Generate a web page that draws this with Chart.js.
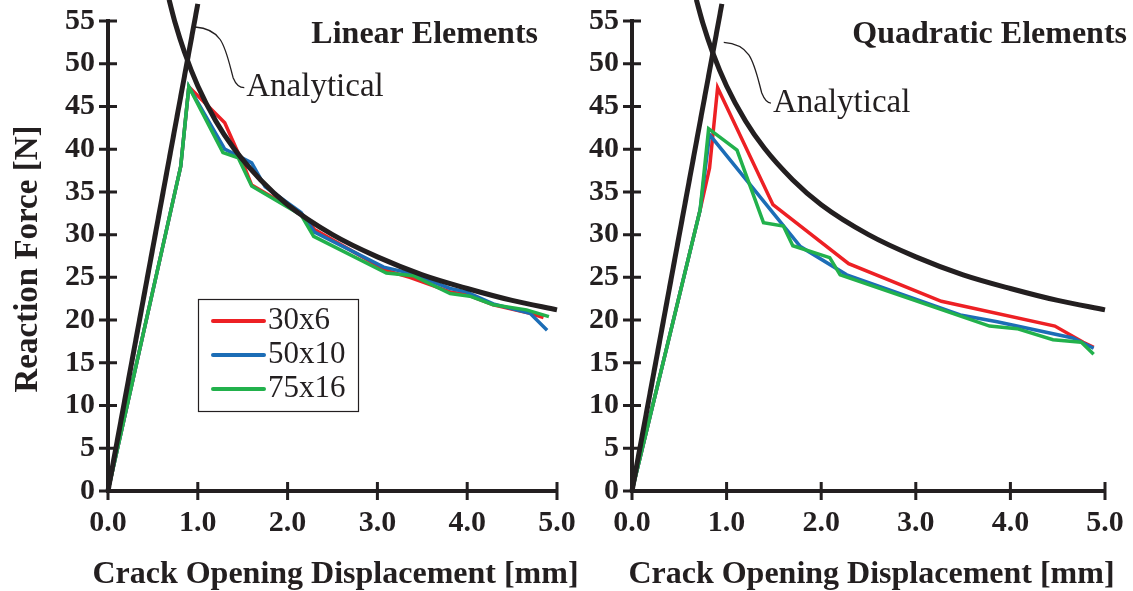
<!DOCTYPE html>
<html>
<head>
<meta charset="utf-8">
<script src="https://cdn.jsdelivr.net/npm/chart.js@4.4.1/dist/chart.umd.min.js"></script>
<style>
  html, body { margin: 0; padding: 0; background: #fff; }
  #wrap { position: relative; width: 1133px; height: 591px; }
  #left { position: absolute; left: 0; top: 0; width: 580px; height: 591px; }
  #right { position: absolute; left: 580px; top: 0; width: 553px; height: 591px; }
</style>
</head>
<body>
<div id="wrap">
  <canvas id="left" width="580" height="591"></canvas>
  <canvas id="right" width="553" height="591"></canvas>
</div>
<script>
// --- data ---
const xTickLabels = ['0.0', '1.0', '2.0', '3.0', '4.0', '5.0'];
const yTickLabels = ['0', '5', '10', '15', '20', '25', '30', '35', '40', '45', '50', '55'];
const meshNames = ['30x6', '50x10', '75x16'];
const xTitle = 'Crack Opening Displacement [mm]';
const yTitle = 'Reaction Force [N]';

// analytical solution (same in both panels)
const riseLeftX = [0, 1.0];
const riseLeftY = [0, 57];
const riseRightX = [0, 0.95];
const riseRightY = [0, 57];
const decayX = [0.68, 0.75, 0.85, 1.0, 1.2, 1.4, 1.7, 2.0, 2.5, 3.0, 3.5, 4.0, 4.5, 5.0];
const decayY = [57.5, 54.7, 51.4, 47.4, 43.3, 40.1, 36.4, 33.5, 30.0, 27.4, 25.3, 23.7, 22.3, 21.2];

// linear elements
const linRedX   = [0, 0.81, 0.9, 1.3, 1.52, 1.6, 2.15, 2.3, 3.1, 3.36, 3.81, 3.99, 4.29, 4.7, 4.85];
const linRedY   = [0, 38, 47.3, 43.1, 37.9, 35.8, 32.4, 30.6, 25.8, 25.0, 23.3, 23.0, 21.8, 20.8, 20.3];
const linBlueX  = [0, 0.81, 0.9, 1.3, 1.6, 1.75, 2.15, 2.3, 3.07, 3.36, 3.81, 3.99, 4.29, 4.7, 4.89];
const linBlueY  = [0, 38, 47.3, 40.0, 38.4, 35.6, 32.6, 30.3, 26.2, 25.5, 23.7, 23.3, 21.9, 20.8, 18.8];
const linGreenX = [0, 0.81, 0.9, 1.28, 1.45, 1.6, 2.15, 2.29, 3.1, 3.4, 3.81, 4.03, 4.29, 4.66, 4.91];
const linGreenY = [0, 38, 47.3, 39.6, 39.0, 35.7, 32.3, 29.8, 25.5, 25.2, 23.1, 22.8, 21.8, 21.2, 20.4];

// quadratic elements
const quadRedX   = [0, 0.72, 0.82, 0.905, 1.49, 2.29, 3.27, 4.47, 4.77, 4.88];
const quadRedY   = [0, 32.9, 37.8, 47.2, 33.5, 26.6, 22.2, 19.3, 17.4, 16.8];
const quadBlueX  = [0, 0.72, 0.82, 1.78, 2.27, 3.47, 3.86, 4.66, 4.88];
const quadBlueY  = [0, 32.9, 41.7, 28.6, 25.3, 20.6, 19.8, 17.9, 16.7];
const quadGreenX = [0, 0.72, 0.81, 1.11, 1.39, 1.6, 1.7, 2.09, 2.2, 3.78, 4.07, 4.45, 4.75, 4.88];
const quadGreenY = [0, 32.9, 42.4, 39.9, 31.4, 31.0, 28.7, 27.3, 25.3, 19.3, 19.0, 17.7, 17.4, 16.0];

const ink = '#231f20';
const meshColors = ['#ed2024', '#1c6db6', '#22b14c'];
const serif = "'Liberation Serif', 'DejaVu Serif', serif";

const pts = (xs, ys) => xs.map((x, i) => ({ x: x, y: ys[i] }));

function centredText(ctx, text, cx, cy, angle, font) {
    ctx.save();
    ctx.translate(cx, cy);
    ctx.rotate(angle);
    ctx.font = font;
    ctx.textAlign = 'center';
    ctx.textBaseline = 'middle';
    ctx.fillText(text, 0, 0);
    ctx.restore();
}

// ticks that cross the axis line, plus titles / callouts / legend box
const panelDecor = {
    id: 'panelDecor',
    afterDatasetsDraw(chart, args, opts) {
        const { ctx, chartArea, scales: { x, y } } = chart;
        ctx.save();

        // crossing tick marks
        ctx.strokeStyle = ink;
        ctx.lineWidth = 3;
        ctx.beginPath();
        y.ticks.forEach(t => {
            const py = y.getPixelForValue(t.value);
            ctx.moveTo(chartArea.left - 9, py);
            ctx.lineTo(chartArea.left + 9, py);
        });
        x.ticks.forEach(t => {
            const px = x.getPixelForValue(t.value);
            ctx.moveTo(px, chartArea.bottom - 9);
            ctx.lineTo(px, chartArea.bottom + 9);
        });
        ctx.stroke();

        // axis titles
        ctx.fillStyle = ink;
        const midX = (chartArea.left + chartArea.right) / 2 + 3;
        centredText(ctx, xTitle, midX, chartArea.bottom + 84, 0, 'bold 32px ' + serif);
        if (opts.yTitle) {
            const midY = (chartArea.top + chartArea.bottom) / 2 + 3;
            centredText(ctx, yTitle, chartArea.left - 80, midY, -Math.PI / 2, 'bold 33px ' + serif);
        }

        // panel title
        ctx.font = 'bold 32px ' + serif;
        ctx.textAlign = 'right';
        ctx.textBaseline = 'middle';
        ctx.fillText(opts.title, chartArea.right + opts.titleDx, chartArea.top + 14);

        // "Analytical" callout
        const a = opts.callout;
        const sx = x.getPixelForValue(a.fromX), sy = y.getPixelForValue(a.fromY);
        const tx = x.getPixelForValue(a.textX), ty = y.getPixelForValue(a.textY);
        ctx.lineWidth = 1.3;
        ctx.beginPath();
        ctx.moveTo(sx, sy);
        ctx.bezierCurveTo(sx + 28, sy + 2, sx + 30, ty - 40, sx + 38, ty - 10);
        ctx.quadraticCurveTo(sx + 42, ty, tx - 2, ty);
        ctx.stroke();
        ctx.font = '33px ' + serif;
        ctx.textAlign = 'left';
        ctx.fillText('Analytical', tx, ty);

        // legend box
        if (opts.legend) {
            const lx = chartArea.left + 90, ly = chartArea.top + 278;
            ctx.lineWidth = 1.2;
            ctx.strokeRect(lx + 0.5, ly + 0.5, 160, 112);
            ctx.font = '31px ' + serif;
            meshNames.forEach((name, i) => {
                const ry = ly + 22 + i * 34;
                ctx.strokeStyle = meshColors[i];
                ctx.lineWidth = 4;
                ctx.lineCap = 'round';
                ctx.beginPath();
                ctx.moveTo(lx + 15, ry);
                ctx.lineTo(lx + 66, ry);
                ctx.stroke();
                ctx.fillStyle = ink;
                ctx.fillText(name, lx + 70, ry);
            });
        }
        ctx.restore();
    }
};

function makePanel(canvasId, cfg) {
    const fe = [cfg.red, cfg.blue, cfg.green].map((d, i) => ({
        label: meshNames[i],
        data: d,
        borderColor: meshColors[i],
        borderWidth: 3.5,
        order: 3 - i,
        clip: false
    }));
    const analytic = [cfg.rise, cfg.decay].map(d => ({
        label: 'Analytical',
        data: d,
        borderColor: ink,
        borderWidth: 5,
        cubicInterpolationMode: 'monotone',
        order: 0,
        clip: false
    }));

    return new Chart(document.getElementById(canvasId), {
        type: 'line',
        data: { datasets: fe.concat(analytic) },
        options: {
            responsive: false,
            animation: false,
            layout: { padding: { top: 21, right: cfg.padRight, left: 0, bottom: 0 } },
            elements: { point: { radius: 0 }, line: { borderJoinStyle: 'miter', borderCapStyle: 'butt' } },
            plugins: {
                legend: { display: false },
                tooltip: { enabled: false },
                panelDecor: {
                    title: cfg.title, titleDx: cfg.titleDx, callout: cfg.callout,
                    legend: cfg.legend, yTitle: cfg.yTitle
                }
            },
            scales: {
                x: {
                    type: 'linear',
                    min: 0, max: 5,
                    grid: { display: false, drawTicks: false },
                    border: { display: true, color: ink, width: 4 },
                    ticks: {
                        stepSize: 1,
                        padding: 14,
                        color: ink,
                        font: { family: serif, size: 30, weight: 'bold' },
                        callback: (v, i) => xTickLabels[i]
                    },
                    afterFit: s => { s.height = 100; s.paddingLeft = 0; s.paddingRight = 0; }
                },
                y: {
                    min: 0, max: 55,
                    grid: { display: false, drawTicks: false },
                    border: { display: true, color: ink, width: 4 },
                    ticks: {
                        stepSize: 5,
                        padding: 13,
                        color: ink,
                        font: { family: serif, size: 30, weight: 'bold' },
                        callback: (v, i) => yTickLabels[i]
                    },
                    afterFit: s => { s.width = cfg.yWidth; s.paddingTop = 0; s.paddingBottom = 0; }
                }
            }
        },
        plugins: [panelDecor]
    });
}

makePanel('left', {
    red: pts(linRedX, linRedY),
    blue: pts(linBlueX, linBlueY),
    green: pts(linGreenX, linGreenY),
    rise: pts(riseLeftX, riseLeftY),
    decay: pts(decayX, decayY),
    title: 'Linear Elements',
    titleDx: -19,
    padRight: 23,
    yWidth: 108,
    yTitle: true,
    legend: true,
    callout: { fromX: 0.97, fromY: 54.3, textX: 1.54, textY: 47.2 }
});

makePanel('right', {
    red: pts(quadRedX, quadRedY),
    blue: pts(quadBlueX, quadBlueY),
    green: pts(quadGreenX, quadGreenY),
    rise: pts(riseRightX, riseRightY),
    decay: pts(decayX, decayY),
    title: 'Quadratic Elements',
    titleDx: 22,
    padRight: 28,
    yWidth: 52,
    yTitle: false,
    legend: false,
    callout: { fromX: 0.97, fromY: 52.5, textX: 1.49, textY: 45.4 }
});
</script>
</body>
</html>
